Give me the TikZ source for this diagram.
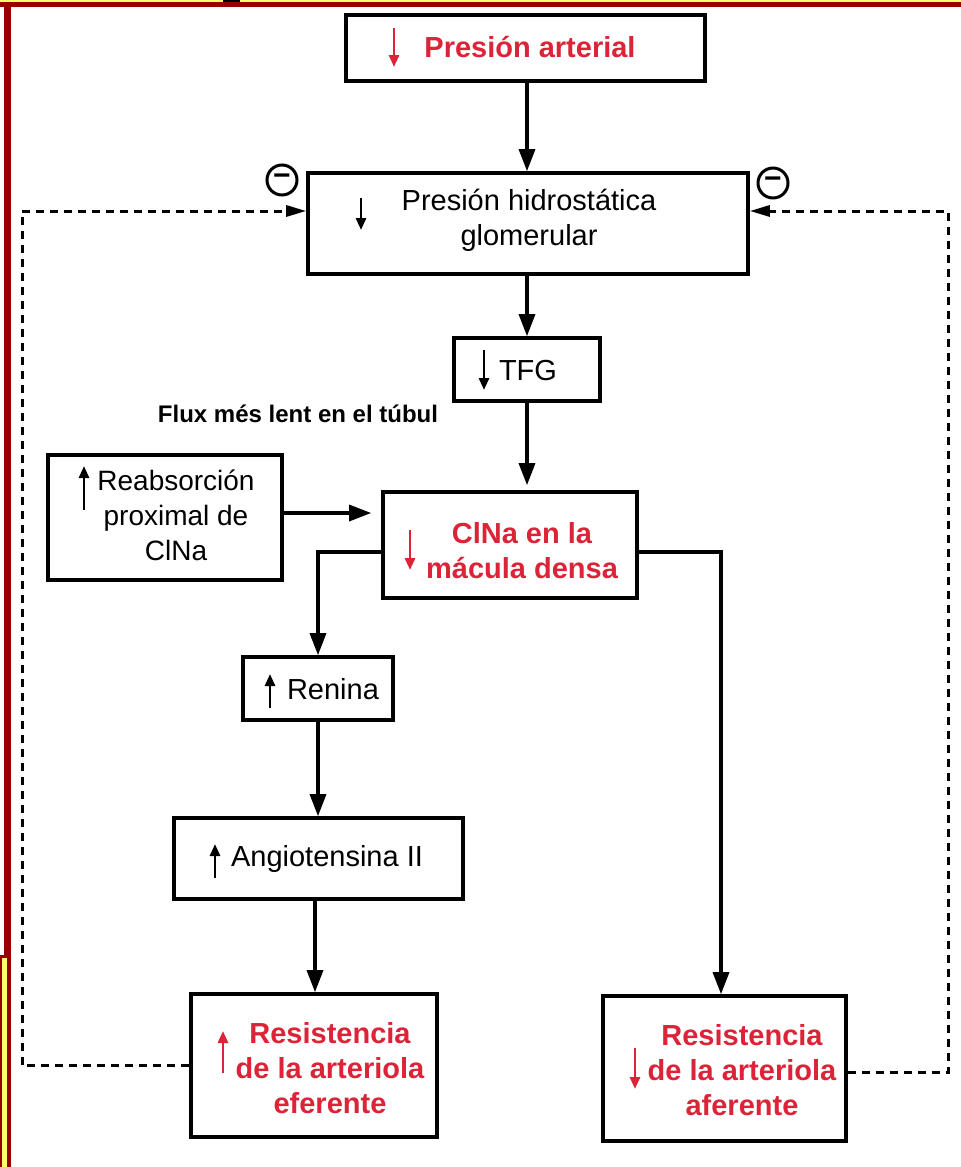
\documentclass[tikz,border=0pt]{standalone}
\usepackage{fontspec}
\setmainfont{Liberation Sans}
\usetikzlibrary{arrows.meta,calc}
\definecolor{framered}{RGB}{153,0,0}
\definecolor{frameyel}{RGB}{255,255,110}
\definecolor{txtred}{RGB}{220,35,55}
\begin{document}
\begin{tikzpicture}[x=0.5pt,y=-0.5pt,
  box/.style n args={2}{draw, line width=1.8pt, minimum width=#1*0.5pt, minimum height=#2*0.5pt, inner sep=0pt},
  txt/.style={font=\fontsize{14.5}{17.5}\selectfont, align=center, inner sep=0pt},
  rtxt/.style={font=\fontsize{14.5}{17.5}\selectfont\bfseries, text=txtred, align=center, inner sep=0pt},
  conn/.style={line width=1.6pt, -{Triangle[length=11pt,width=8pt]}},
  fb/.style={line width=1.5pt, dash pattern=on 4pt off 3pt, -{Triangle[length=10pt,width=5.5pt]}},
  ua/.style={line width=1.4pt, -{Triangle[length=6pt,width=5pt]}},
  minus/.style={circle, draw, line width=1.5pt, minimum size=15pt, inner sep=0pt, font=\fontsize{15}{15}\selectfont\bfseries}
]
\useasboundingbox (0,0) rectangle (961,1167);
\fill[white] (0,0) rectangle (961,1167);
% frame
\fill[frameyel] (0,0) rectangle (961,2);
\fill[framered] (0,2) rectangle (961,7);
\fill[black] (223,0) rectangle (240,2);
\fill[framered] (4,7) rectangle (11,1167);
\fill[framered] (0,955) rectangle (11,1167);
\fill[frameyel] (1.5,958) rectangle (7,1167);

% helper coordinates
\coordinate (c1) at (527,0);
\coordinate (c4) at (315,0);
\coordinate (c3) at (721,0);
\coordinate (lx) at (22,0);
\coordinate (rx) at (948,0);
\coordinate (fy) at (0,211);
\coordinate (ry) at (0,513);

% boxes
\node[box={359}{66}] (PA) at (525.5,48) {};
\node[box={440}{101}] (PH) at (528,223.5) {};
\node[box={146}{63}] (TFG) at (527,369.5) {};
\node[box={234}{125}] (Reab) at (165,517.5) {};
\node[box={254}{106}] (ClNa) at (510,545) {};
\node[box={150}{63}] (Renina) at (318,688.5) {};
\node[box={289}{81}] (Angio) at (318.5,858.5) {};
\node[box={246}{143}] (ResEf) at (314,1065.5) {};
\node[box={243}{145}] (ResAf) at (724.5,1068.5) {};

% texts
\node[rtxt] (PAt) at (530,47) {Presión arterial};
\node[txt] (PHt) at (529,220) {Presión hidrostática\\glomerular};
\node[txt] (TFGt) at (528,371) {TFG};
\node[font=\fontsize{12}{14}\selectfont\bfseries, inner sep=0pt] (flux) at (298,414) {Flux més lent en el túbul};
\node[font=\fontsize{14}{17.5}\selectfont, align=center, inner sep=0pt] (Reabt) at (176,515) {Reabsorción\\proximal de\\ClNa};
\node[rtxt] (ClNat) at (522,551) {ClNa en la\\mácula densa};
\node[txt] (Renint) at (333,689) {Renina};
\node[txt] (Angiot) at (327,859) {Angiotensina II};
\node[rtxt] (ResEft) at (330,1068) {Resistencia\\de la arteriola\\eferente};
\node[rtxt] (ResAft) at (742,1070) {Resistencia\\de la arteriola\\aferente};

% small arrows within labels
\draw[ua, txtred] (394,28) -- (394,67);
\draw[ua] (361,198) -- (361,230);
\draw[ua] (484,350) -- (484,390);
\draw[ua] (84,510) -- (84,466);
\draw[ua, txtred] (410,530) -- (410,570);
\draw[ua] (270,708) -- (270,674);
\draw[ua] (215,878) -- (215,844);
\draw[ua, txtred] (223,1073) -- (223,1031);
\draw[ua, txtred] (635,1048) -- (635,1089);

% connectors
\draw[conn] (PA.south -| c1) -- (PH.north -| c1);
\draw[conn] (PH.south -| c1) -- (TFG.north -| c1);
\draw[conn, shorten >=2.5pt] (TFG.south -| c1) -- (ClNa.north -| c1);
\draw[conn, shorten >=5pt] (Reab.east |- ry) -- (ClNa.west |- ry);
\draw[conn] ($(ClNa.west)+(0,7)$) -| (Renina.north);
\draw[conn] (Renina.south) -- (Renina.south |- Angio.north);
\draw[conn] (Angio.south -| c4) -- (ResEf.north -| c4);
\draw[conn] ($(ClNa.east)+(0,7)$) -| (ResAf.north -| c3);

% feedback (dashed)
\coordinate (afe) at ($(ResAf.east)+(0,4)$);
\draw[fb] (ResEf.west) -- (ResEf.west -| lx) |- (PH.west |- fy);
\draw[fb] (afe) -- (afe -| rx) |- (PH.east |- fy);

% minus signs
\node[minus] (m1) at (282,180) {−};
\node[minus] (m2) at (773,183) {−};
\end{tikzpicture}
\end{document}
